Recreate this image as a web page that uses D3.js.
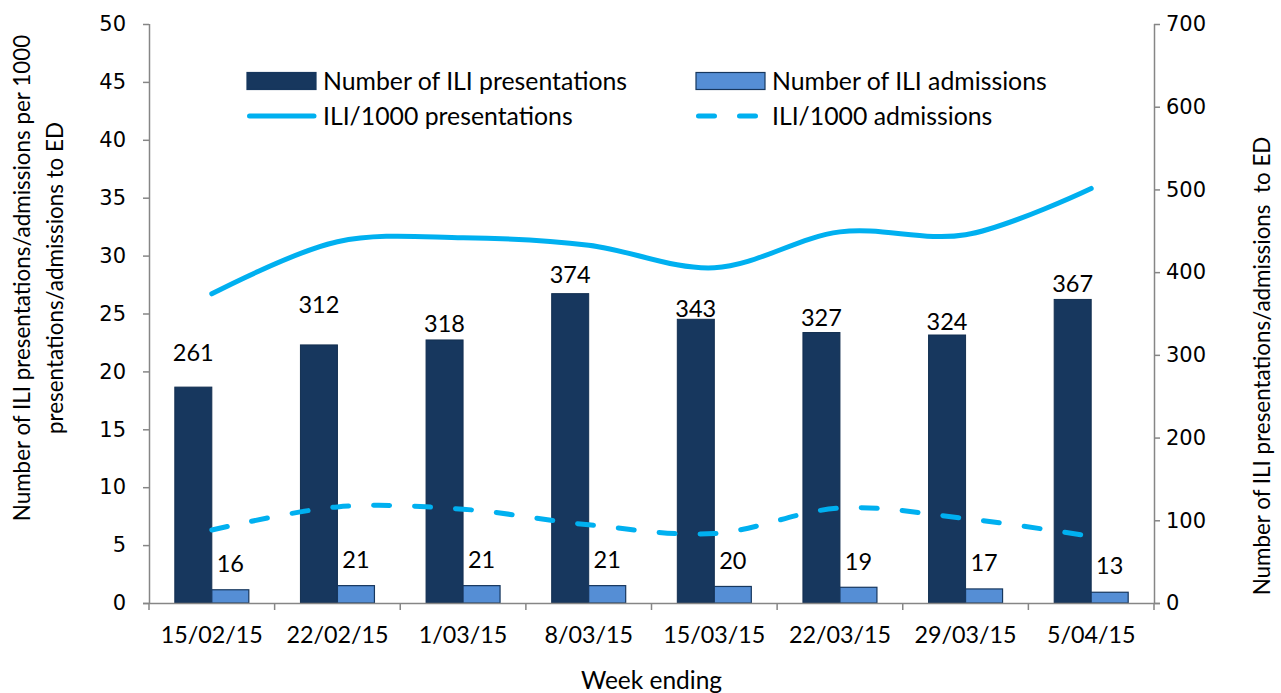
<!DOCTYPE html>
<html>
<head>
<meta charset="utf-8">
<script src="https://cdn.jsdelivr.net/npm/d3@7"></script>
<style>
  body { margin: 0; background: #fff; }
  text { font-family: Lato, "Open Sans", sans-serif; fill: #000; }
</style>
</head>
<body>
<svg id="chart"></svg>
<script>
// chart data
const weeks = ["15/02/15", "22/02/15", "1/03/15", "8/03/15", "15/03/15", "22/03/15", "29/03/15", "5/04/15"];
const presentations = [261, 312, 318, 374, 343, 327, 324, 367];
const admissions = [16, 21, 21, 21, 20, 19, 17, 13];
const presRate = [26.7, 31.2, 31.55, 30.9, 28.95, 32.05, 31.8, 35.8];
const admRate = [6.3, 8.3, 8.1, 6.75, 6.0, 8.2, 7.3, 5.75];
const leftTicks = [0, 5, 10, 15, 20, 25, 30, 35, 40, 45, 50];
const rightTicks = [0, 100, 200, 300, 400, 500, 600, 700];

// label lift above the dark bars (they were moved by hand in the original)
const labelLift = [34, 40, 16, 19, 11, 15, 13, 16];

const canvWidth = 1281;
const canvHeight = 693;
const margin = { top: 24, right: 127, bottom: 90, left: 149 };
const width = canvWidth - margin.left - margin.right;
const height = canvHeight - margin.top - margin.bottom;

const axisColor = "#868686";
const darkBar = "#17375E";
const lightBar = "#558ED5";
const lineColor = "#00B0F0";

const svg = d3.select("#chart")
    .attr("width", canvWidth)
    .attr("height", canvHeight);

const g = svg.append("g")
    .attr("transform", "translate(" + margin.left + "," + margin.top + ")");

// scales
const x = d3.scaleBand().domain(weeks).range([0, width]);
const yLeft = d3.scaleLinear().domain([0, 50]).range([height, 0]);
const yRight = d3.scaleLinear().domain([0, 700]).range([height, 0]);
const barW = 37;

// bars: presentations
g.selectAll(".bar-pres")
    .data(presentations)
    .enter().append("rect")
    .attr("class", "bar-pres")
    .attr("x", (d, i) => x(weeks[i]) + x.bandwidth() / 2 - barW)
    .attr("y", d => yRight(d))
    .attr("width", barW)
    .attr("height", d => height - yRight(d))
    .attr("fill", darkBar)
    .attr("stroke", "#132f50")
    .attr("stroke-width", 1);

// bars: admissions
g.selectAll(".bar-adm")
    .data(admissions)
    .enter().append("rect")
    .attr("class", "bar-adm")
    .attr("x", (d, i) => x(weeks[i]) + x.bandwidth() / 2)
    .attr("y", d => yRight(d))
    .attr("width", barW)
    .attr("height", d => height - yRight(d))
    .attr("fill", lightBar)
    .attr("stroke", darkBar)
    .attr("stroke-width", 1.2);

// data labels
g.selectAll(".lab-pres")
    .data(presentations)
    .enter().append("text")
    .attr("x", (d, i) => x(weeks[i]) + x.bandwidth() / 2 - barW / 2)
    .attr("y", (d, i) => yRight(d) - labelLift[i])
    .attr("dy", "0.35em")
    .attr("text-anchor", "middle")
    .style("font-size", "23.5px")
    .text(d => d);

g.selectAll(".lab-adm")
    .data(admissions)
    .enter().append("text")
    .attr("x", (d, i) => x(weeks[i]) + x.bandwidth() / 2 + barW / 2)
    .attr("y", d => yRight(d) - 26)
    .attr("dy", "0.35em")
    .attr("text-anchor", "middle")
    .style("font-size", "23.5px")
    .text(d => d);

// smoothed lines
const line = d3.line()
    .x((d, i) => x(weeks[i]) + x.bandwidth() / 2)
    .y(d => yLeft(d))
    .curve(d3.curveCatmullRom.alpha(0.5));

g.append("path")
    .datum(presRate)
    .attr("d", line)
    .attr("fill", "none")
    .attr("stroke", lineColor)
    .attr("stroke-width", 5)
    .attr("stroke-linecap", "round");

g.append("path")
    .datum(admRate)
    .attr("d", line)
    .attr("fill", "none")
    .attr("stroke", lineColor)
    .attr("stroke-width", 5)
    .attr("stroke-linecap", "round")
    .attr("stroke-dasharray", "16,25");

// axes
const axisLeft = g.append("g")
    .call(d3.axisLeft(yLeft).tickValues(leftTicks).tickSize(6).tickPadding(17));
const axisRight = g.append("g")
    .attr("transform", "translate(" + width + ",0)")
    .call(d3.axisRight(yRight).tickValues(rightTicks).tickSize(6).tickPadding(6));
const axisBottom = g.append("g")
    .attr("transform", "translate(0," + height + ")")
    .call(d3.axisBottom(x).tickSize(0).tickPadding(23));

// category boundary ticks on the x axis
g.append("g")
    .selectAll("line")
    .data(weeks.concat(["end"]))
    .enter().append("line")
    .attr("x1", (d, i) => i * x.step())
    .attr("x2", (d, i) => i * x.step())
    .attr("y1", height)
    .attr("y2", height + 7)
    .attr("stroke", axisColor)
    .attr("stroke-width", 1.5);

[axisLeft, axisRight, axisBottom].forEach(a => {
    a.select(".domain").attr("stroke", axisColor).attr("stroke-width", 1.5);
    a.selectAll(".tick line").attr("stroke", axisColor).attr("stroke-width", 1.5);
    a.selectAll(".tick text").attr("fill", "#000");
});
axisLeft.selectAll(".tick text").style("font-family", "'DejaVu Sans', sans-serif").style("font-size", "21px");
axisRight.selectAll(".tick text").style("font-family", "'DejaVu Sans', sans-serif").style("font-size", "21px");
axisBottom.selectAll(".tick text").style("font-size", "23.3px");
axisBottom.select(".domain").attr("d", "M-6,0.5H" + (width + 6));
axisLeft.select(".domain").attr("d", "M0.5,0V" + height);
axisRight.select(".domain").attr("d", "M0.5,0V" + height);

// axis titles
svg.append("text")
    .attr("x", margin.left + width / 2)
    .attr("y", 680)
    .attr("dy", "0.35em")
    .attr("text-anchor", "middle")
    .style("font-size", "24.5px")
    .text("Week ending");

const leftTitle = svg.append("text")
    .attr("transform", "translate(22,278) rotate(-90)")
    .attr("text-anchor", "middle")
    .style("font-size", "22.4px");
leftTitle.append("tspan").attr("x", 0).attr("dy", "0.35em")
    .text("Number of ILI presentations/admissions per 1000");
leftTitle.append("tspan").attr("x", 0).attr("dy", "1.47em")
    .text("presentations/admissions to ED");

svg.append("text")
    .attr("transform", "translate(1262,366) rotate(-90)")
    .attr("text-anchor", "middle")
    .attr("dy", "0.35em")
    .style("font-size", "22.4px")
    .style("white-space", "pre")
    .text("Number of ILI presentations/admissions  to ED");

// legend
const legend = svg.append("g");
const legendItems = [
    { label: "Number of ILI presentations", type: "bar", color: darkBar, x: 247, y: 81 },
    { label: "Number of ILI admissions", type: "bar", color: lightBar, x: 696, y: 81 },
    { label: "ILI/1000 presentations", type: "line", dash: null, x: 247, y: 116 },
    { label: "ILI/1000 admissions", type: "line", dash: "16,25", x: 696, y: 116 }
];
legendItems.forEach(item => {
    if (item.type === "bar") {
        legend.append("rect")
            .attr("x", item.x)
            .attr("y", item.y - 8.5)
            .attr("width", 69)
            .attr("height", 17)
            .attr("fill", item.color)
            .attr("stroke", darkBar)
            .attr("stroke-width", 1.2);
    } else {
        legend.append("line")
            .attr("x1", item.x + 2.5)
            .attr("x2", item.x + 67)
            .attr("y1", item.y)
            .attr("y2", item.y)
            .attr("stroke", lineColor)
            .attr("stroke-width", 5)
            .attr("stroke-linecap", "round")
            .attr("stroke-dasharray", item.dash);
    }
    legend.append("text")
        .attr("x", item.x + 76)
        .attr("y", item.y)
        .attr("dy", "0.35em")
        .style("font-size", "24.8px")
        .text(item.label);
});
</script>
</body>
</html>
